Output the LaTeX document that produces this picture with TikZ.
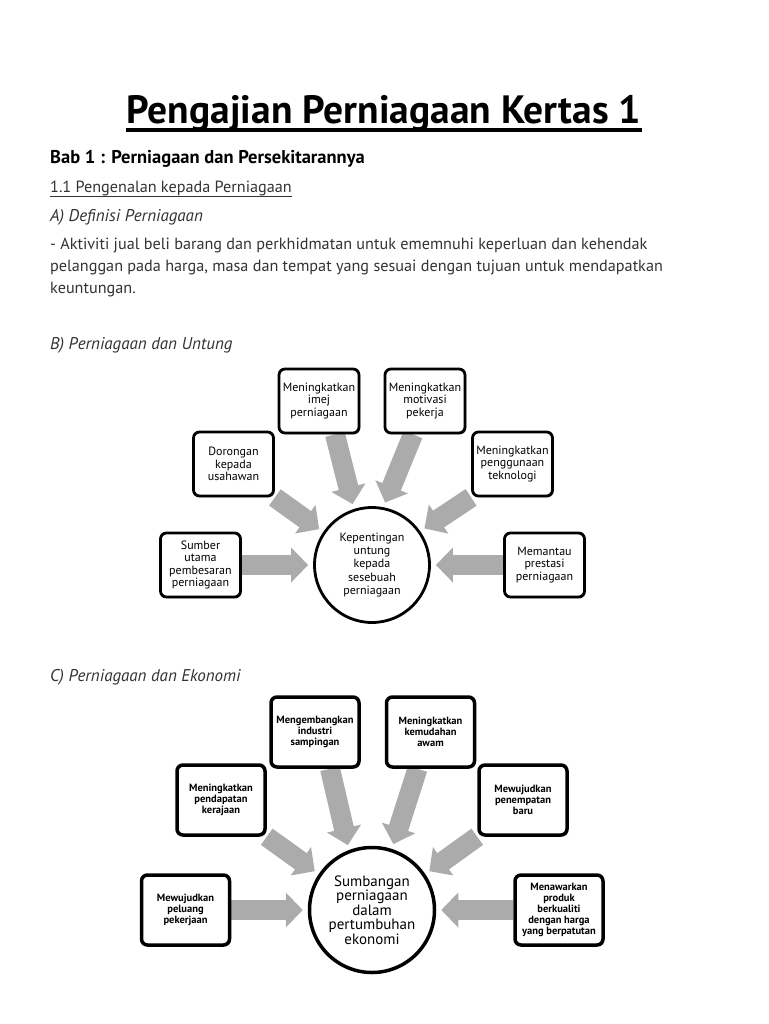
\documentclass[tikz,border=0pt]{standalone}
\usepackage{fontspec}
\setmainfont{PT Sans}
\usepackage{xcolor}
\usepackage{tikz}
\usetikzlibrary{arrows.meta, positioning, shadows, backgrounds}

\definecolor{arrowgray}{HTML}{ABABAB}
\definecolor{textgray}{HTML}{333333}

\tikzset{
  line/.style={anchor=base west, inner sep=0pt, text=textgray,
    font=\fontsize{16.2}{22}\selectfont},
  subhead/.style={line, font=\fontsize{17}{22}\itshape},
  bbox/.style={draw, line width=2.8pt, rounded corners=6pt, fill=white,
    align=center, inner sep=1pt, minimum width=80pt, minimum height=64pt,
    drop shadow={opacity=0.35, shadow xshift=1.5pt, shadow yshift=-1.5pt},
    font=\fontsize{12}{12.5}\selectfont},
  cbox/.style={bbox, line width=3.5pt, minimum width=88pt, minimum height=70pt,
    font=\fontsize{10.5}{10.8}\bfseries},
  hub/.style={circle, draw, line width=2.8pt, fill=white, align=center,
    inner sep=0pt},
  bigarrow/.style={line width=20pt, draw=arrowgray, shorten >=5pt,
    -{Triangle[length=17pt, width=34pt]}}
}

\begin{document}
\begin{tikzpicture}[x=1pt, y=-1pt]
  % page frame, 768 x 1024 px
  \useasboundingbox (0,0) rectangle (768,1024);

  % title and text block
  \node[anchor=base, inner sep=0pt, font=\fontsize{39.5}{42}\bfseries] (title)
    at (384,124) {Pengajian Perniagaan Kertas 1};
  \draw[line width=3.5pt] ([yshift=-6pt]title.base west) -- ([yshift=-6pt]title.base east);
  \node[line, text=black, font=\fontsize{18.5}{22}\bfseries] (bab) at (50,164)
    {Bab 1 : Perniagaan dan Persekitarannya};
  \node[line] (sec) at (50,193) {1.1 Pengenalan kepada Perniagaan};
  \draw[line width=1pt, textgray] ([yshift=-4pt]sec.base west) -- ([yshift=-4pt]sec.base east);
  \node[subhead] (defA) at (50,222) {A) Definisi Perniagaan};
  \node[line] (para1) at (50,249)
    {- Aktiviti jual beli barang dan perkhidmatan untuk ememnuhi keperluan dan kehendak};
  \node[line] (para2) at (50,271)
    {pelanggan pada harga, masa dan tempat yang sesuai dengan tujuan untuk mendapatkan};
  \node[line] (para3) at (50,293) {keuntungan.};

  % B) Perniagaan dan Untung
  \node[subhead] (secB) at (50,349) {B) Perniagaan dan Untung};
  \node[hub, minimum size=115pt, font=\fontsize{12}{13.3}\selectfont] (cB) at (372,565)
    {Kepentingan\\untung\\kepada\\sesebuah\\perniagaan};
  \node[bbox] (imej) at (319,401) {Meningkatkan\\imej\\perniagaan};
  \node[bbox] (motivasi) at (425,401) {Meningkatkan\\motivasi\\pekerja};
  \node[bbox] (dorongan) at (233.5,464) {Dorongan\\kepada\\usahawan};
  \node[bbox] (teknologi) at (512.5,464) {Meningkatkan\\penggunaan\\teknologi};
  \node[bbox] (sumber) at (200.5,565) {Sumber\\utama\\pembesaran\\perniagaan};
  \node[bbox] (memantau) at (544.5,565) {Memantau\\prestasi\\perniagaan};

  % C) Perniagaan dan Ekonomi
  \node[subhead] (secC) at (50,681) {C) Perniagaan dan Ekonomi};
  \node[hub, line width=3.5pt, minimum size=125pt, font=\fontsize{15}{14.6}\selectfont]
    (cC) at (372,910) {Sumbangan\\perniagaan\\dalam\\pertumbuhan\\ekonomi};
  \node[cbox] (industri) at (315,732) {Mengembangkan\\industri\\sampingan};
  \node[cbox] (kemudahan) at (430.5,732) {Meningkatkan\\kemudahan\\awam};
  \node[cbox] (kerajaan) at (221,800) {Meningkatkan\\pendapatan\\kerajaan};
  \node[cbox] (penempatan) at (523,800) {Mewujudkan\\penempatan\\baru};
  \node[cbox] (pekerjaan) at (185.5,910) {Mewujudkan\\peluang\\pekerjaan};
  \node[cbox] (produk) at (559,910)
    {Menawarkan\\produk\\berkualiti\\dengan harga\\yang berpatutan};

  % grey block arrows behind the boxes
  \begin{pgfonlayer}{background}
    \fill[white] (0,0) rectangle (768,1024);
    \draw[bigarrow] ([xshift=16pt]imej.south) -- (cB.108);
    \draw[bigarrow] ([xshift=-12pt]motivasi.south) -- (cB.79);
    \foreach \src/\ang in {dorongan.south east/146, teknologi.south west/35,
                           sumber/180, memantau/0}
      \draw[bigarrow] (\src) -- (cB.\ang);
    \draw[bigarrow] ([xshift=15pt]industri.south) -- (cC.111);
    \draw[bigarrow] ([xshift=-13pt]kemudahan.south) -- (cC.72);
    \foreach \src/\ang in {kerajaan.south east/146, penempatan.south west/34,
                           pekerjaan/180, produk/0}
      \draw[bigarrow] (\src) -- (cC.\ang);
  \end{pgfonlayer}
\end{tikzpicture}
\end{document}
